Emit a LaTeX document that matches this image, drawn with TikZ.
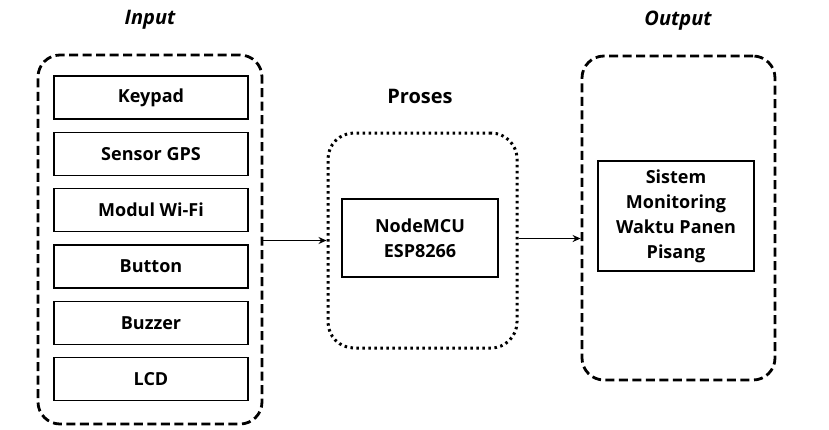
\documentclass[tikz,border=0pt]{standalone}
\usepackage{fontspec}
\setmainfont{Open Sans}
\usetikzlibrary{arrows.meta}
\tikzset{
  container/.style={draw, line width=2.8pt, dash pattern=on 9pt off 4.5pt, rounded corners=22pt, inner sep=0pt},
  dotbox/.style={draw, line width=3pt, dash pattern=on 2.5pt off 3.5pt, rounded corners=26pt, inner sep=0pt},
  item/.style={draw, line width=1.8pt, minimum width=194pt, minimum height=43pt, inner sep=0pt, font=\bfseries\fontsize{18}{22}\selectfont},
  bigbox/.style={draw, line width=1.8pt, minimum width=156pt, inner sep=0pt, align=center},
  ttl/.style={font=\bfseries\itshape\fontsize{20}{24}\selectfont},
  conn/.style={line width=1.8pt, -{Stealth[length=8pt,width=7pt]}}
}
\begin{document}
\begin{tikzpicture}[x=1pt,y=-1pt]
\useasboundingbox[fill=white] (0,0) rectangle (829,429);
% titles
\node[ttl] (tin) at (150,20) {Input};
\node[font=\bfseries\fontsize{20}{24}\selectfont] (tproc) at (420,96) {Proses};
\node[ttl] (tout) at (678,21) {Output};
% containers
\node[container, minimum width=224pt, minimum height=369pt] (in) at (150,239.5) {};
\node[dotbox, minimum width=189pt, minimum height=215pt] (proc) at (422.5,240.5) {};
\node[container, minimum width=193pt, minimum height=324pt] (out) at (678.5,218) {};
% input items
\node[item] (k) at (151,97.5) {Keypad};
\node[item] (g) at (151,154) {Sensor GPS};
\node[item] (w) at (151,210) {Modul Wi-Fi};
\node[item] (b) at (151,266.5) {Button};
\node[item] (z) at (151,323) {Buzzer};
\node[item] (l) at (151,379) {LCD};
% process
\node[bigbox, minimum height=78pt, font=\bfseries\fontsize{18}{25}\selectfont] (mcu) at (420,238) {NodeMCU\\ESP8266};
% output
\node[bigbox, minimum height=110pt, font=\bfseries\fontsize{18}{25}\selectfont] (sys) at (676,216) {Sistem\\Monitoring\\Waktu Panen\\Pisang};
% connectors
\draw[conn] (in.east |- proc.west) -- (proc.west);
\draw[conn] ([yshift=2pt]proc.east) -- ([yshift=2pt]proc.east -| out.west);
\end{tikzpicture}
\end{document}
